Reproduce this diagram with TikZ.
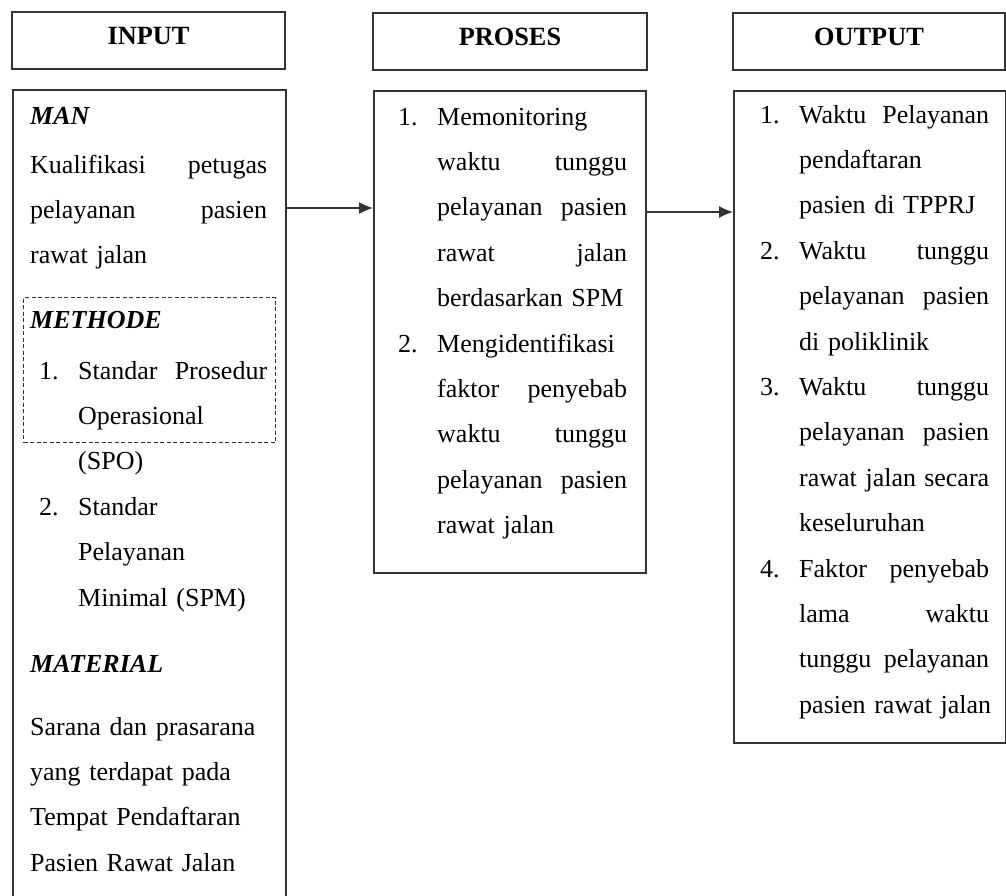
\documentclass[tikz,border=0pt]{standalone}
\usepackage{fontspec}
\setmainfont[WordSpace=0.85]{Liberation Serif}
\usetikzlibrary{arrows.meta}
\newcommand{\js}[3][190pt]{\makebox[#1][l]{#2\hfill #3}}
\newcommand{\nr}[1]{\makebox[39pt][l]{#1}}
\newcommand{\ind}{\hspace*{39pt}}
\newcommand{\hd}[1]{\textbf{\textit{#1}}}
\begin{document}
\begin{tikzpicture}[x=1pt,y=-1pt,font=\fontsize{26}{45.4}\selectfont]
   \tikzstyle{headbox}=[draw=black!80, line width=1.6pt, minimum height=57pt, text depth=9pt, font=\fontsize{26.3}{45.4}\selectfont\bfseries]
   \tikzstyle{bodybox}=[draw=black!80, line width=1.6pt, anchor=north west, inner sep=0]
   \tikzstyle{txt}=[anchor=base west, inner sep=0, align=left, text width=240pt]
   \tikzstyle{arrow}=[draw=black!80, line width=1.3pt, -{Latex[length=14pt,width=12pt]}]
   \clip (0,0) rectangle (1006,895);
   \node[headbox, minimum width=273pt] (inhead) at (148.5,40.5) {INPUT};
   \node[headbox, minimum width=274pt] (prohead) at (510,41.5) {PROSES};
   \node[headbox, minimum width=272pt] (outhead) at (869,41.5) {OUTPUT};
   \node[bodybox, minimum width=273pt, minimum height=830pt] (inbox) at (12,89) {};
   \node[bodybox, minimum width=272pt, minimum height=482pt] (probox) at (373,90) {};
   \node[bodybox, minimum width=272pt, minimum height=652pt] (outbox) at (733,90) {};
   \node[bodybox, line width=1.3pt, dash pattern=on 4pt off 2.5pt, minimum width=252pt, minimum height=145pt] (methodbox) at (23,297) {};
   \node[txt] (man) at (30,124) {\hd{MAN}};
   \node[txt] (manbody) at (30,173) {\js[237pt]{Kualifikasi}{petugas}\\\js[237pt]{pelayanan}{pasien}\\rawat jalan};
   \node[txt] (methode) at (30,328) {\hd{METHODE}};
   \node[txt] (methodelist) at (39,379) {\nr{1.}\js[189pt]{Standar}{Prosedur}\\\ind Operasional\\\ind (SPO)\\\nr{2.}Standar\\\ind Pelayanan\\\ind Minimal (SPM)};
   \node[txt] (material) at (30,672) {\hd{MATERIAL}};
   \node[txt] (materialbody) at (30,735) {Sarana dan prasarana\\yang terdapat pada\\Tempat Pendaftaran\\Pasien Rawat Jalan};
   \node[txt] (prolist) at (398,125) {\nr{1.}Memonitoring\\\ind\js{waktu}{tunggu}\\\ind\js{pelayanan}{pasien}\\\ind\js{rawat}{jalan}\\\ind berdasarkan SPM\\\nr{2.}Mengidentifikasi\\\ind\js{faktor}{penyebab}\\\ind\js{waktu}{tunggu}\\\ind\js{pelayanan}{pasien}\\\ind rawat jalan};
   \node[txt] (outlist) at (760,123) {\nr{1.}\js{Waktu}{Pelayanan}\\\ind pendaftaran\\\ind pasien di TPPRJ\\\nr{2.}\js{Waktu}{tunggu}\\\ind\js{pelayanan}{pasien}\\\ind di poliklinik\\\nr{3.}\js{Waktu}{tunggu}\\\ind\js{pelayanan}{pasien}\\\ind\js{rawat jalan}{secara}\\\ind keseluruhan\\\nr{4.}\js{Faktor}{penyebab}\\\ind\js{lama}{waktu}\\\ind\js{tunggu}{pelayanan}\\\ind pasien rawat jalan};
   \draw[arrow] (inbox.east |- 0,208) -- (probox.west |- 0,208);
   \draw[arrow] (probox.east |- 0,212) -- (outbox.west |- 0,212);
\end{tikzpicture}
\end{document}
